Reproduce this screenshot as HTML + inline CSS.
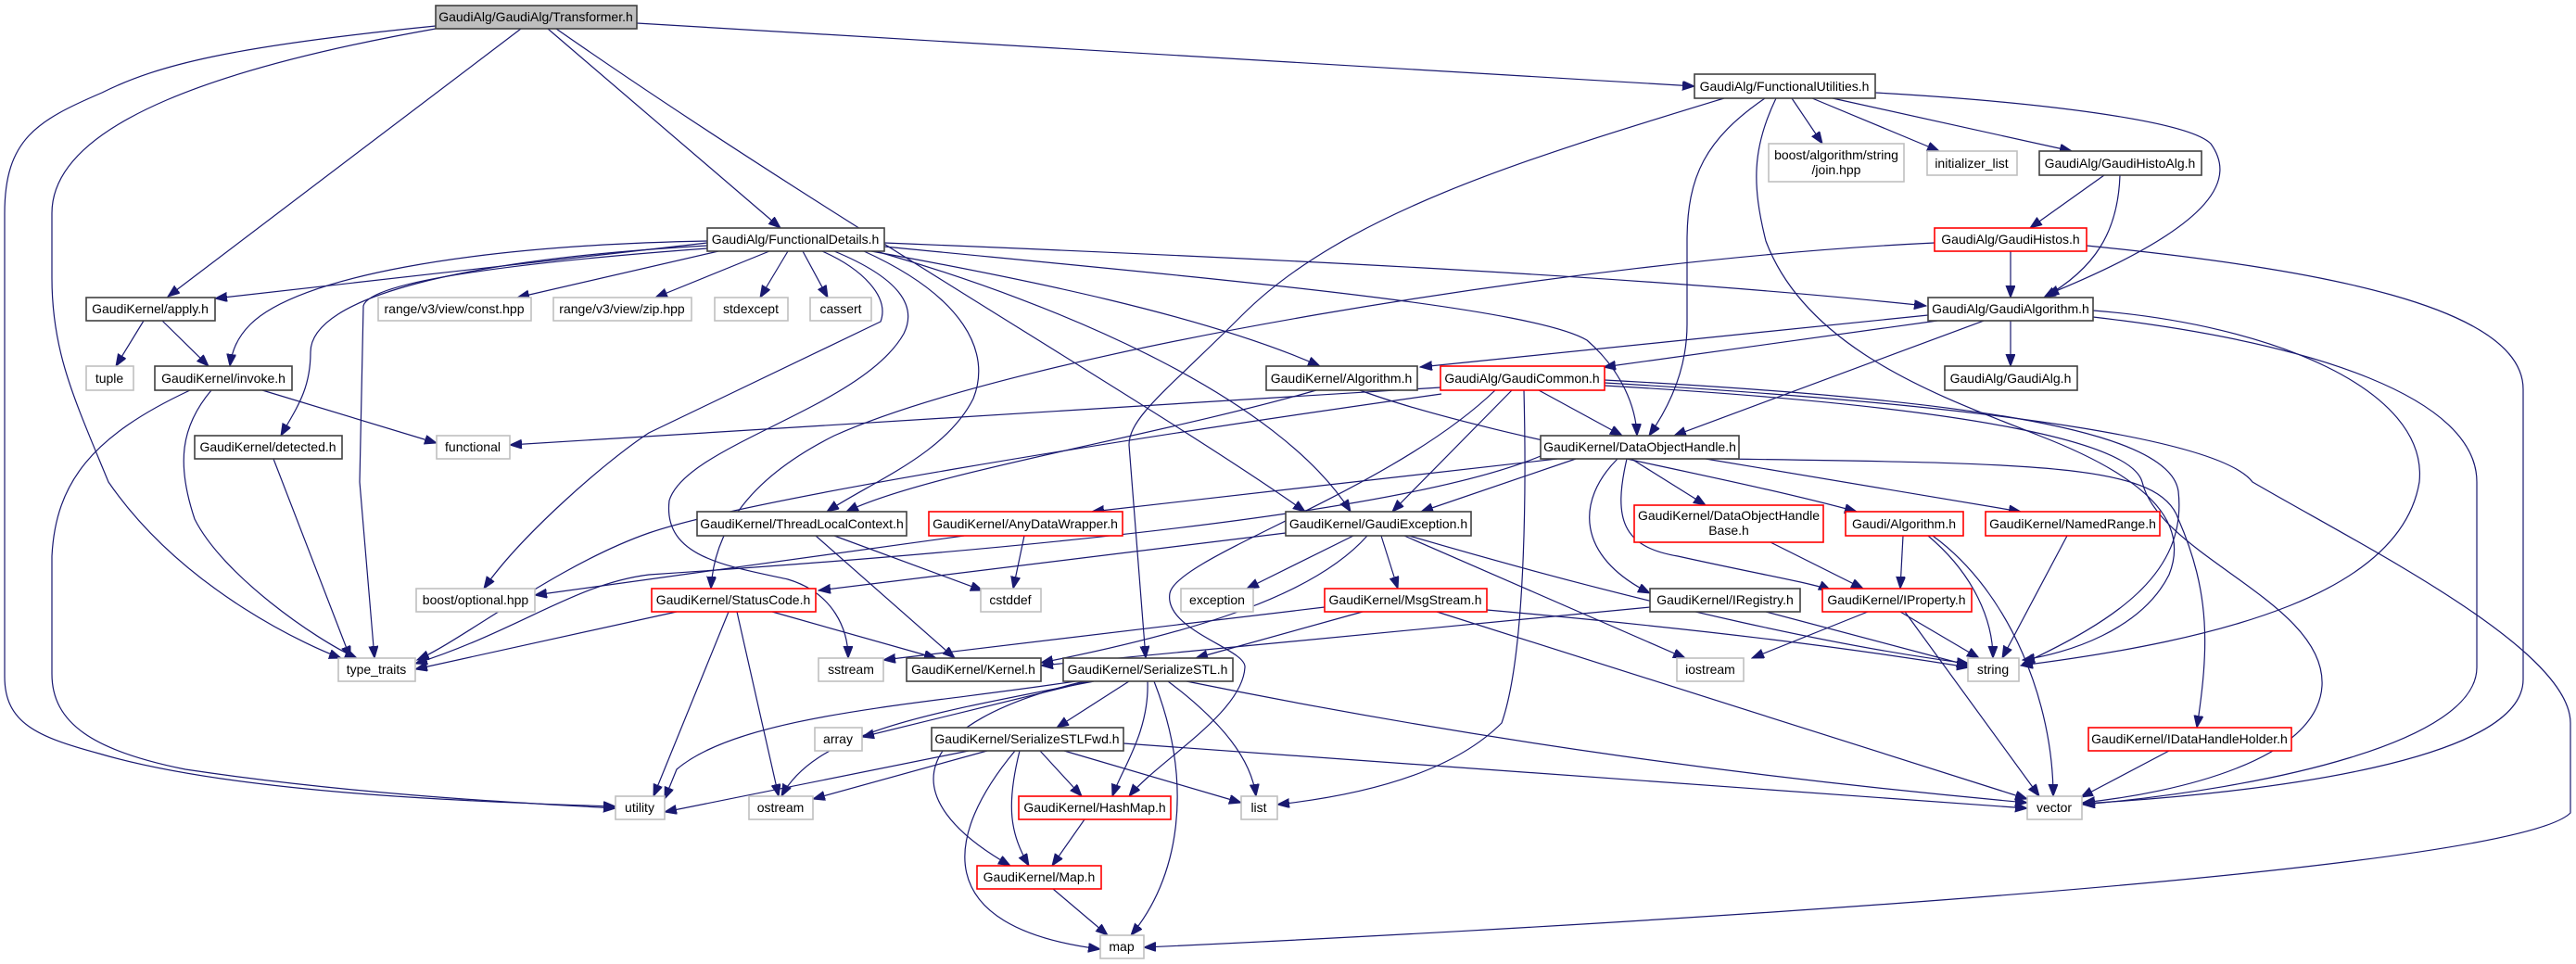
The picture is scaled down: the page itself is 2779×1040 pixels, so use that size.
<!DOCTYPE html>
<html><head><meta charset="utf-8"><style>
html,body{margin:0;padding:0;background:#fff;}
svg{display:block;}
text{font-family:"Liberation Sans",sans-serif;font-size:14px;fill:#000;text-anchor:middle;}
.b{fill:#fff;stroke:#404040;stroke-width:1.6;}
.g{fill:#fff;stroke:#bfbfbf;stroke-width:1.6;}
.r{fill:#fff;stroke:#ff0000;stroke-width:1.6;}
.t{fill:#bfbfbf;stroke:#404040;stroke-width:1.6;}
path{fill:none;stroke:#191970;stroke-width:1.2;marker-end:url(#a);}
</style></head><body>
<svg width="2779" height="1040" viewBox="0 0 2779 1040" xmlns="http://www.w3.org/2000/svg">
<defs><marker id="a" markerUnits="userSpaceOnUse" markerWidth="14" markerHeight="12" refX="13" refY="5" orient="auto"><polygon points="0,0 13,5 0,10" fill="#191970" stroke="#191970"/></marker></defs>

<!-- edges from Transformer -->
<path d="M470,28 C250,50 170,70 110,100 C40,130 5,150 5,230 L5,730 C5,780 40,795 107,813 C250,855 500,865 664,870"/>
<path d="M470,31 C250,70 56,130 56,230 L56,300 C56,380 80,430 117,520 C200,640 340,700 368,710"/>
<path d="M562,31 L181,320"/>
<path d="M591,31 L842,246"/>
<path d="M600,31 C900,240 1250,440 1408,552"/>
<path d="M687,25 L1828,93"/>

<!-- FunctionalUtilities -->
<path d="M1933,106 L1966,155"/>
<path d="M1955,106 L2092,163"/>
<path d="M1977,106 L2235,163"/>
<path d="M2023,100 C2200,110 2360,130 2385,155 C2410,190 2400,240 2208,318"/>
<path d="M1904,106 C1840,150 1820,190 1820,260 L1820,350 C1820,400 1800,440 1779,470"/>
<path d="M1860,106 C1650,170 1450,230 1340,340 C1260,420 1218,450 1218,480 L1236,710"/>
<path d="M1916,106 C1890,160 1890,200 1905,260 C1950,380 2100,430 2200,470 C2330,520 2360,570 2340,620 C2310,680 2230,705 2182,712"/>

<!-- FunctionalDetails -->
<path d="M763,262 L232,322"/>
<path d="M763,260 C500,265 320,300 270,350 C255,365 250,380 248,395"/>
<path d="M763,265 C500,280 335,320 335,380 C335,420 320,440 303,470"/>
<path d="M763,268 C600,280 400,300 392,330 L388,520 L404,710"/>
<path d="M775,271 L558,321"/>
<path d="M830,271 L707,321"/>
<path d="M850,271 L820,321"/>
<path d="M866,271 L893,321"/>
<path d="M887,271 C930,290 960,320 950,347 L700,467 C650,500 560,580 522,635"/>
<path d="M900,271 C970,300 990,330 975,360 C930,440 740,480 722,540 C715,600 780,610 850,625 C900,640 915,680 915,710"/>
<path d="M932,271 C1040,320 1070,380 1050,430 C1020,490 940,520 892,552"/>
<path d="M940,271 C1100,300 1300,340 1424,395"/>
<path d="M954,262 C1400,280 1800,300 2078,330"/>
<path d="M954,266 C1300,300 1650,330 1712,367 C1750,400 1765,440 1766,470"/>
<path d="M945,271 C1150,330 1380,430 1457,552"/>

<!-- apply / invoke / detected -->
<path d="M155,346 L125,395"/>
<path d="M175,346 L225,395"/>
<path d="M283,421 L471,478"/>
<path d="M228,421 C195,460 190,500 210,560 C240,620 340,690 385,710"/>
<path d="M205,421 C100,470 60,520 56,600 L56,727 C56,780 100,810 200,830 C400,860 600,868 664,872"/>
<path d="M295,495 L378,710"/>

<!-- Kernel Algorithm -->
<path d="M1420,421 C1250,470 1000,510 913,552"/>
<path d="M1467,421 C1600,470 1850,510 2003,552"/>

<!-- GaudiAlgorithm -->
<path d="M2080,340 L1532,396"/>
<path d="M2090,346 L1730,396"/>
<path d="M2140,346 L1806,470"/>
<path d="M2169,346 L2169,395"/>
<path d="M2258,335 C2450,350 2620,420 2610,520 C2590,640 2400,690 2180,718"/>
<path d="M2258,342 C2500,370 2672,430 2672,520 L2672,720 C2672,800 2450,850 2247,868"/>

<!-- HistoAlg / Histos -->
<path d="M2270,189 L2190,246"/>
<path d="M2287,189 C2285,250 2260,290 2205,321"/>
<path d="M2169,271 L2169,321"/>
<path d="M2251,265 C2500,290 2722,330 2722,420 L2722,733 C2722,820 2450,855 2247,867"/>
<path d="M2087,262 C1700,280 1100,380 900,470 C800,520 770,580 767,635"/>

<!-- GaudiCommon -->
<path d="M1554,418 L550,480"/>
<path d="M1555,425 C1200,475 800,540 700,575 C600,610 500,690 450,712"/>
<path d="M1660,421 L1750,470"/>
<path d="M1631,421 L1502,552"/>
<path d="M1613,421 C1500,530 1270,600 1262,640 C1255,680 1345,700 1343,720 C1340,770 1250,820 1218,859"/>
<path d="M1644,421 C1646,500 1648,700 1620,780 C1560,840 1450,860 1378,868"/>
<path d="M1731,410 C2100,430 2340,460 2350,530 C2360,620 2280,670 2182,716"/>
<path d="M1731,416 C2150,440 2300,480 2311,520 C2330,600 2510,650 2505,740 C2500,820 2350,855 2247,866"/>
<path d="M1731,413 C2200,440 2400,480 2430,520 C2550,590 2773,700 2773,780 L2773,877 C2700,950 1500,1010 1234,1022"/>

<!-- DataObjectHandle -->
<path d="M1700,495 L1533,552"/>
<path d="M1680,495 L1178,552"/>
<path d="M1662,492 C1500,560 1000,600 700,620 C620,630 560,680 448,716"/>
<path d="M1760,495 L1840,545"/>
<path d="M1745,495 C1700,540 1700,600 1780,640"/>
<path d="M1755,495 C1740,560 1750,590 1810,600 C1900,620 1960,630 1975,637"/>
<path d="M1840,495 L2180,552"/>
<path d="M1860,495 C2200,500 2330,500 2350,560 C2385,640 2383,700 2370,785"/>

<!-- mid layer -->
<path d="M880,578 L1030,710"/>
<path d="M900,578 L1060,637"/>
<path d="M1105,578 L1093,635"/>
<path d="M1040,578 L577,642"/>
<path d="M833,660 L1010,710"/>
<path d="M730,660 L448,722"/>
<path d="M786,660 L705,859"/>
<path d="M795,660 L840,859"/>
<path d="M1387,575 L883,637"/>
<path d="M1460,578 L1345,635"/>
<path d="M1490,578 L1508,635"/>
<path d="M1475,578 C1420,640 1300,680 1123,715"/>
<path d="M1515,578 L1818,710"/>
<path d="M1520,578 C1800,660 2000,700 2124,716"/>
<path d="M1429,655 L953,712"/>
<path d="M1470,660 L1290,710"/>
<path d="M1604,658 C1850,680 2000,700 2124,720"/>
<path d="M1550,660 L2187,862"/>
<path d="M1780,655 L1123,718"/>
<path d="M1905,660 L2124,718"/>
<path d="M1910,585 L2010,635"/>
<path d="M2053,578 L2050,635"/>
<path d="M2080,578 C2130,620 2150,670 2150,710"/>
<path d="M2085,578 C2170,640 2215,760 2215,859"/>
<path d="M2230,578 L2160,710"/>
<path d="M2015,660 L1890,710"/>
<path d="M2050,660 L2135,710"/>
<path d="M2055,660 L2200,859"/>
<path d="M2340,810 L2245,860"/>

<!-- SerializeSTL -->
<path d="M1160,735 C1000,760 800,770 730,830 L717,862"/>
<path d="M1180,735 C1000,770 880,790 843,859"/>
<path d="M1175,735 L930,795"/>
<path d="M1218,735 L1140,785"/>
<path d="M1238,735 C1240,790 1210,830 1200,859"/>
<path d="M1170,735 C980,780 960,860 1090,934"/>
<path d="M1245,735 C1290,850 1270,950 1220,1009"/>
<path d="M1260,735 C1320,780 1350,820 1355,859"/>
<path d="M1280,735 C1600,800 1900,840 2187,866"/>
<!-- SerializeSTLFwd -->
<path d="M1045,810 L717,876"/>
<path d="M1065,810 L877,862"/>
<path d="M1122,810 L1167,859"/>
<path d="M1148,810 L1339,866"/>
<path d="M1212,802 C1600,830 1900,850 2187,872"/>
<path d="M1100,810 C1085,870 1090,900 1110,934"/>
<path d="M1095,810 C1020,900 1000,1000 1187,1024"/>
<path d="M1170,884 L1135,934"/>
<path d="M1136,959 L1195,1009"/>

<!-- nodes -->
<rect class="t" x="470" y="6" width="217" height="25"/><text x="578" y="23">GaudiAlg/GaudiAlg/Transformer.h</text>
<rect class="b" x="1828" y="80" width="195" height="26"/><text x="1925" y="98">GaudiAlg/FunctionalUtilities.h</text>
<rect class="b" x="763" y="246" width="191" height="25"/><text x="858" y="263">GaudiAlg/FunctionalDetails.h</text>
<rect class="b" x="93" y="321" width="139" height="25"/><text x="162" y="338">GaudiKernel/apply.h</text>
<rect class="g" x="93" y="395" width="51" height="26"/><text x="118" y="413">tuple</text>
<rect class="b" x="167" y="395" width="148" height="26"/><text x="241" y="413">GaudiKernel/invoke.h</text>
<rect class="b" x="210" y="470" width="159" height="25"/><text x="289" y="487">GaudiKernel/detected.h</text>
<rect class="g" x="471" y="470" width="79" height="25"/><text x="510" y="487">functional</text>
<rect class="g" x="408" y="321" width="165" height="25"/><text x="490" y="338">range/v3/view/const.hpp</text>
<rect class="g" x="597" y="321" width="149" height="25"/><text x="671" y="338">range/v3/view/zip.hpp</text>
<rect class="g" x="771" y="321" width="79" height="25"/><text x="810" y="338">stdexcept</text>
<rect class="g" x="874" y="321" width="66" height="25"/><text x="907" y="338">cassert</text>
<rect class="g" x="1908" y="155" width="146" height="41"/><text x="1981" y="172">boost/algorithm/string</text><text x="1981" y="188">/join.hpp</text>
<rect class="g" x="2079" y="163" width="97" height="26"/><text x="2127" y="181">initializer_list</text>
<rect class="b" x="2200" y="163" width="175" height="26"/><text x="2287" y="181">GaudiAlg/GaudiHistoAlg.h</text>
<rect class="r" x="2087" y="246" width="164" height="25"/><text x="2169" y="263">GaudiAlg/GaudiHistos.h</text>
<rect class="b" x="2080" y="321" width="178" height="25"/><text x="2169" y="338">GaudiAlg/GaudiAlgorithm.h</text>
<rect class="b" x="2098" y="395" width="143" height="26"/><text x="2169" y="413">GaudiAlg/GaudiAlg.h</text>
<rect class="b" x="1366" y="395" width="163" height="26"/><text x="1447" y="413">GaudiKernel/Algorithm.h</text>
<rect class="r" x="1554" y="395" width="177" height="26"/><text x="1642" y="413">GaudiAlg/GaudiCommon.h</text>
<rect class="b" x="1662" y="470" width="214" height="25"/><text x="1769" y="487">GaudiKernel/DataObjectHandle.h</text>
<rect class="b" x="752" y="552" width="226" height="26"/><text x="865" y="570">GaudiKernel/ThreadLocalContext.h</text>
<rect class="r" x="1002" y="552" width="209" height="26"/><text x="1106" y="570">GaudiKernel/AnyDataWrapper.h</text>
<rect class="b" x="1387" y="552" width="200" height="26"/><text x="1487" y="570">GaudiKernel/GaudiException.h</text>
<rect class="r" x="1763" y="545" width="204" height="40"/><text x="1865" y="561">GaudiKernel/DataObjectHandle</text><text x="1865" y="577">Base.h</text>
<rect class="r" x="1991" y="552" width="127" height="26"/><text x="2054" y="570">Gaudi/Algorithm.h</text>
<rect class="r" x="2142" y="552" width="188" height="26"/><text x="2236" y="570">GaudiKernel/NamedRange.h</text>
<rect class="g" x="449" y="635" width="128" height="25"/><text x="513" y="652">boost/optional.hpp</text>
<rect class="r" x="703" y="635" width="177" height="25"/><text x="791" y="652">GaudiKernel/StatusCode.h</text>
<rect class="g" x="1058" y="635" width="65" height="25"/><text x="1090" y="652">cstddef</text>
<rect class="g" x="1274" y="635" width="78" height="25"/><text x="1313" y="652">exception</text>
<rect class="r" x="1429" y="635" width="175" height="25"/><text x="1516" y="652">GaudiKernel/MsgStream.h</text>
<rect class="b" x="1780" y="635" width="162" height="25"/><text x="1861" y="652">GaudiKernel/IRegistry.h</text>
<rect class="r" x="1966" y="635" width="161" height="25"/><text x="2046" y="652">GaudiKernel/IProperty.h</text>
<rect class="g" x="365" y="710" width="83" height="25"/><text x="406" y="727">type_traits</text>
<rect class="g" x="883" y="710" width="70" height="25"/><text x="918" y="727">sstream</text>
<rect class="b" x="978" y="710" width="145" height="25"/><text x="1050" y="727">GaudiKernel/Kernel.h</text>
<rect class="b" x="1147" y="710" width="183" height="25"/><text x="1238" y="727">GaudiKernel/SerializeSTL.h</text>
<rect class="g" x="1809" y="710" width="72" height="25"/><text x="1845" y="727">iostream</text>
<rect class="g" x="2123" y="710" width="55" height="25"/><text x="2150" y="727">string</text>
<rect class="g" x="879" y="785" width="51" height="25"/><text x="904" y="802">array</text>
<rect class="b" x="1005" y="785" width="207" height="25"/><text x="1108" y="802">GaudiKernel/SerializeSTLFwd.h</text>
<rect class="r" x="2253" y="785" width="219" height="25"/><text x="2362" y="802">GaudiKernel/IDataHandleHolder.h</text>
<rect class="g" x="664" y="859" width="53" height="25"/><text x="690" y="876">utility</text>
<rect class="g" x="808" y="859" width="69" height="25"/><text x="842" y="876">ostream</text>
<rect class="r" x="1099" y="859" width="164" height="25"/><text x="1181" y="876">GaudiKernel/HashMap.h</text>
<rect class="g" x="1339" y="859" width="39" height="25"/><text x="1358" y="876">list</text>
<rect class="g" x="2187" y="859" width="59" height="25"/><text x="2216" y="876">vector</text>
<rect class="r" x="1054" y="934" width="134" height="25"/><text x="1121" y="951">GaudiKernel/Map.h</text>
<rect class="g" x="1187" y="1009" width="47" height="25"/><text x="1210" y="1026">map</text>
</svg>
</body></html>
